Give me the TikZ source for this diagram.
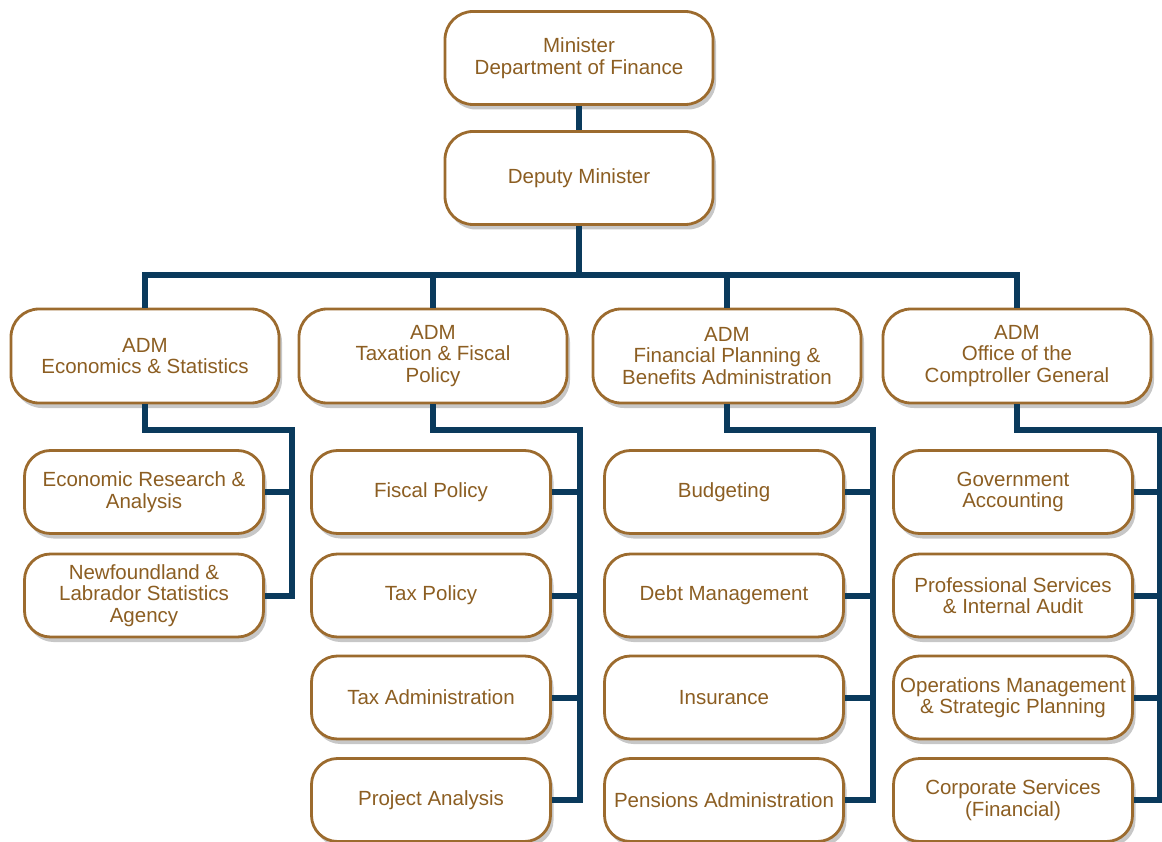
\documentclass[tikz,border=0pt]{standalone}
\usepackage{fontspec}
\setmainfont{Liberation Sans}
\usetikzlibrary{shadows}
\usepackage{xcolor}
\definecolor{unitgold}{HTML}{9C6B2E}
\definecolor{unittext}{HTML}{8C5E22}
\definecolor{linknavy}{HTML}{0A3A5C}

\begin{document}
\begin{tikzpicture}[x=1pt, y=-1pt]
        % ================= styles =================
        \tikzset{
            % box styles
            unit/.style={rounded corners=28pt, draw=unitgold, line width=2.8pt, fill=white,
                text=unittext, align=center, inner sep=0pt,
                font=\fontsize{20.5}{21.5}\selectfont,
                drop shadow={shadow xshift=3pt, shadow yshift=-5pt, fill=black, opacity=0.22}},
            headunit/.style={unit, minimum width=268pt, minimum height=93pt},
            admunit/.style={unit, minimum width=268pt, minimum height=94pt},
            subunit/.style={unit, minimum width=239pt, minimum height=83pt, rounded corners=26pt},
            % connector style
            link/.style={draw=linknavy, line width=6pt}
        }
        \useasboundingbox (0,0) rectangle (1162,842);

        % ================= 1. top =================
        \node[headunit] (min) at (579,58) {\raisebox{-3pt}{\parbox{260pt}{\centering Minister\\Department of Finance}}};
        \node[headunit] (dep) at (579,178) {\raisebox{-3pt}{Deputy Minister}};
        \coordinate (hub) at (579,275);

        % ================= 2. ADM row =================
        \node[admunit] (adm1) at (145,356) {ADM\\Economics \& Statistics};
        \node[admunit] (adm2) at (433,356) {ADM\\Taxation \& Fiscal\\Policy};
        \node[admunit] (adm3) at (727,356) {ADM\\Financial Planning \&\\Benefits Administration};
        \node[admunit] (adm4) at (1017,356) {ADM\\Office of the\\Comptroller General};

        % ================= 3. divisions =================
        % column 1
        \node[subunit] (eco1) at (144,492) {Economic Research \&\\Analysis};
        \node[subunit] (eco2) at (144,595.5) {Newfoundland \&\\Labrador Statistics\\Agency};
        % column 2
        \node[subunit] (tax1) at (431,492) {Fiscal Policy};
        \node[subunit] (tax2) at (431,595.5) {Tax Policy};
        \node[subunit] (tax3) at (431,697.5) {Tax Administration};
        \node[subunit] (tax4) at (431,800) {Project Analysis};
        % column 3
        \node[subunit] (fin1) at (724,492) {Budgeting};
        \node[subunit] (fin2) at (724,595.5) {Debt Management};
        \node[subunit] (fin3) at (724,697.5) {Insurance};
        \node[subunit] (fin4) at (724,800) {Pensions Administration};
        % column 4
        \node[subunit] (ocg1) at (1013,492) {Government\\Accounting};
        \node[subunit] (ocg2) at (1013,595.5) {Professional Services\\\& Internal Audit};
        \node[subunit] (ocg3) at (1013,697.5) {Operations Management\\\& Strategic Planning};
        \node[subunit] (ocg4) at (1013,800) {Corporate Services\\(Financial)};

        % ================= 4. connectors =================
        \draw[link] (min.south) -- (dep.north);
        \draw[link] (dep.south) -- (hub);
        \draw[link] (adm1.north) |- (hub) -| (adm4.north);
        \draw[link] (hub -| adm2.north) -- (adm2.north);
        \draw[link] (hub -| adm3.north) -- (adm3.north);

        % spines (elbow below each ADM)
        \coordinate (s1) at (292,430);
        \coordinate (s2) at (580,430);
        \coordinate (s3) at (873,430);
        \coordinate (s4) at (1160,430);

        \draw[link] (adm1.south) |- (s1) |- (eco2.east);
        \draw[link] (adm2.south) |- (s2) |- (tax4.east);
        \draw[link] (adm3.south) |- (s3) |- (fin4.east);
        \draw[link] (adm4.south) |- (s4) |- (ocg4.east);

        \draw[link] (eco1.east) -- (s1 |- eco1.east);
        \foreach \u in {tax1,tax2,tax3} \draw[link] (\u.east) -- (s2 |- \u.east);
        \foreach \u in {fin1,fin2,fin3} \draw[link] (\u.east) -- (s3 |- \u.east);
        \foreach \u in {ocg1,ocg2,ocg3} \draw[link] (\u.east) -- (s4 |- \u.east);

    \end{tikzpicture}
\end{document}
